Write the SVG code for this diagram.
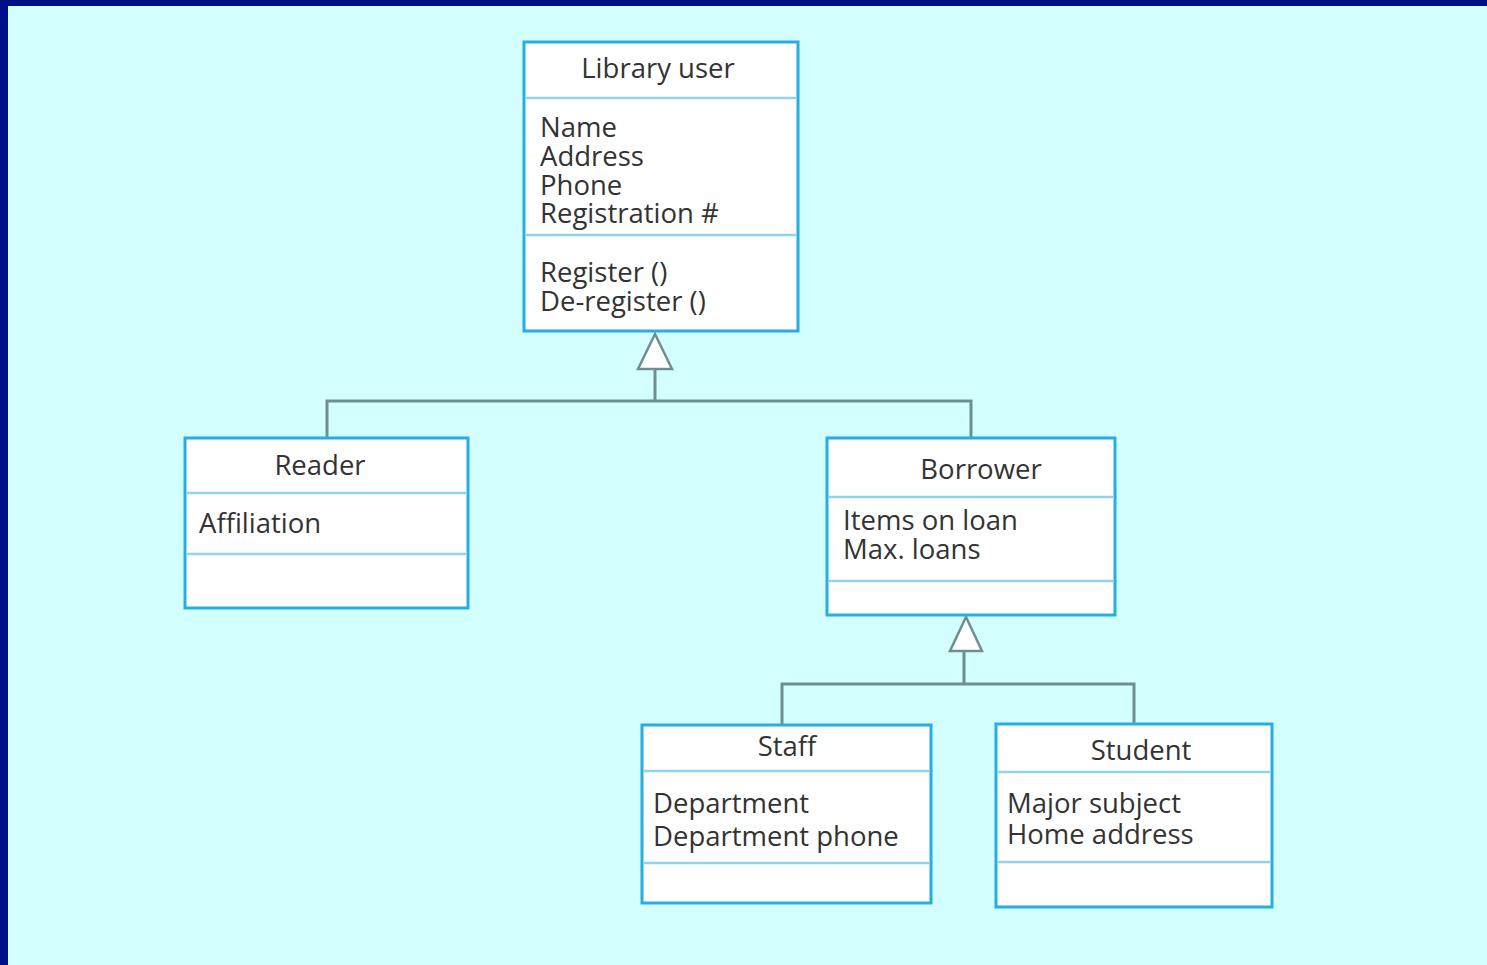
<svg xmlns="http://www.w3.org/2000/svg" width="1487" height="965" viewBox="0 0 1487 965">
<style>
.box{fill:#ffffff;stroke:#27ade0;stroke-width:3}
.div{stroke:#8fd3ee;stroke-width:2.5}
.t{font-family:"Open Sans","Noto Sans",sans-serif;font-size:27.5px;fill:#333333}
.c{text-anchor:middle}
.con{fill:none;stroke:#6f8f8f;stroke-width:3}
.tri{fill:#ffffff;stroke:#6f8f8f;stroke-width:2.5}
</style>
<rect width="1487" height="965" fill="#d4ffff"/>
<rect x="0" y="0" width="1487" height="6" fill="#001188"/>
<rect x="0" y="0" width="8" height="965" fill="#001188"/>
<g id="connectors">
<path class="con" d="M655 370V401M327 438V401H971V438"/>
<path class="con" d="M964 652V684M782 725V684H1134V724"/>
<polygon class="tri" points="655,334 672,369 638,369"/>
<polygon class="tri" points="966,617 982,651 950,651"/>
</g>
<g id="library-user">
<rect class="box" x="524" y="42" width="274" height="289"/>
<line class="div" x1="525" y1="98" x2="797" y2="98"/>
<line class="div" x1="525" y1="235" x2="797" y2="235"/>
<text class="t c" x="658" y="78">Library user</text>
<text class="t" x="540" y="137">Name<tspan x="540" dy="29">Address</tspan><tspan x="540" dy="29">Phone</tspan><tspan x="540" dy="28">Registration #</tspan></text>
<text class="t" x="540" y="282">Register ()<tspan x="540" dy="29">De-register ()</tspan></text>
</g>
<g id="reader">
<rect class="box" x="185" y="438" width="283" height="170"/>
<line class="div" x1="186" y1="493" x2="467" y2="493"/>
<line class="div" x1="186" y1="554" x2="467" y2="554"/>
<text class="t c" x="320" y="475">Reader</text>
<text class="t" x="199" y="533">Affiliation</text>
</g>
<g id="borrower">
<rect class="box" x="827" y="438" width="288" height="177"/>
<line class="div" x1="828" y1="497" x2="1114" y2="497"/>
<line class="div" x1="828" y1="581" x2="1114" y2="581"/>
<text class="t c" x="981" y="479">Borrower</text>
<text class="t" x="843" y="530">Items on loan<tspan x="843" dy="29">Max. loans</tspan></text>
</g>
<g id="staff">
<rect class="box" x="642" y="725" width="289" height="178"/>
<line class="div" x1="643" y1="771" x2="930" y2="771"/>
<line class="div" x1="643" y1="863" x2="930" y2="863"/>
<text class="t c" x="787" y="756">Staff</text>
<text class="t" x="653" y="813">Department<tspan x="653" dy="33">Department phone</tspan></text>
</g>
<g id="student">
<rect class="box" x="996" y="724" width="276" height="183"/>
<line class="div" x1="997" y1="772" x2="1271" y2="772"/>
<line class="div" x1="997" y1="862" x2="1271" y2="862"/>
<text class="t c" x="1141" y="760">Student</text>
<text class="t" x="1007" y="813">Major subject<tspan x="1007" dy="31">Home address</tspan></text>
</g>
</svg>
